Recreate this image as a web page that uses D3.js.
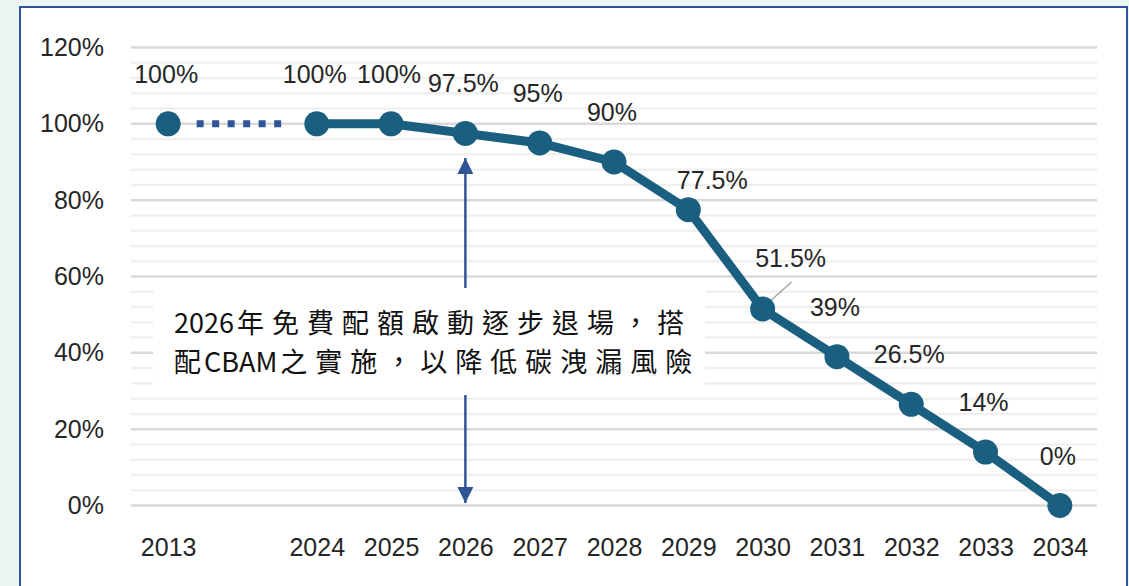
<!DOCTYPE html>
<html>
<head>
<meta charset="utf-8">
<script src="https://cdn.jsdelivr.net/npm/d3@7"></script>
<style>
  html, body { margin: 0; padding: 0; background: #edf5f4; }
  svg { display: block; }
  text { font-family: "Liberation Sans", Arial, sans-serif; }
</style>
</head>
<body>
<div id="chart"></div>
<script>
// slots on the x axis; "gap" is the empty slot between 2013 and 2024
var slots = ["2013", "gap", "2024", "2025", "2026", "2027", "2028", "2029", "2030", "2031", "2032", "2033", "2034"];
var years = ["2013", "2024", "2025", "2026", "2027", "2028", "2029", "2030", "2031", "2032", "2033", "2034"];
var values = [100, 100, 100, 97.5, 95, 90, 77.5, 51.5, 39, 26.5, 14, 0];
var yTicks = [0, 20, 40, 60, 80, 100, 120];
var noteLines = ["2026年免費配額啟動逐步退場，搭", "配CBAM之實施，以降低碳洩漏風險"];
var noteYear = "2026";

var width = 1129, height = 586;
var margin = {top: 47.5, right: 32, bottom: 80.5, left: 131};

var svg = d3.select("#chart").append("svg")
  .attr("width", width)
  .attr("height", height);

// white frame with blue border
svg.append("rect")
  .attr("x", 20).attr("y", 7)
  .attr("width", 1107).attr("height", 600)
  .attr("fill", "#fff")
  .attr("stroke", "#2f5597")
  .attr("stroke-width", 2);

var x = d3.scalePoint()
  .domain(slots)
  .range([margin.left, width - margin.right])
  .padding(0.5);

var y = d3.scaleLinear()
  .domain([0, 120])
  .range([height - margin.bottom, margin.top]);

var points = years.map(function (yr, i) { return {year: yr, value: values[i]}; });

// minor gridlines (every 4%)
var minor = d3.range(0, 121, 4).filter(function (d) { return d % 20 !== 0; });
svg.append("g").selectAll("line").data(minor).join("line")
  .attr("x1", margin.left).attr("x2", width - margin.right)
  .attr("y1", function (d) { return y(d); })
  .attr("y2", function (d) { return y(d); })
  .attr("stroke", "#f0f0f0")
  .attr("stroke-width", 2.5);

// major gridlines
svg.append("g").selectAll("line").data(yTicks).join("line")
  .attr("x1", margin.left).attr("x2", width - margin.right)
  .attr("y1", function (d) { return y(d); })
  .attr("y2", function (d) { return y(d); })
  .attr("stroke", "#d9d9d9")
  .attr("stroke-width", 2.5);

// y axis labels
var yAxis = svg.append("g")
  .attr("transform", "translate(" + (margin.left - 27) + ",0)")
  .call(d3.axisLeft(y).tickValues(yTicks).tickSize(0).tickFormat(function (d) { return d + "%"; }));
yAxis.select(".domain").remove();
yAxis.selectAll("text")
  .attr("x", 0)
  .style("font-family", "'Liberation Sans', Arial, sans-serif")
  .style("font-size", "25px")
  .attr("fill", "#262626");

// x axis labels
var xAxis = svg.append("g")
  .attr("transform", "translate(0," + y(0) + ")")
  .call(d3.axisBottom(x).tickSize(0).tickFormat(function (d) { return d === "gap" ? "" : d; }));
xAxis.select(".domain").remove();
xAxis.selectAll("text")
  .attr("y", 33)
  .style("font-family", "'Liberation Sans', Arial, sans-serif")
  .style("font-size", "25px")
  .attr("fill", "#262626");

// arrow marker
svg.append("defs").append("marker")
  .attr("id", "arrow")
  .attr("viewBox", "0 0 10 10")
  .attr("refX", 10).attr("refY", 5)
  .attr("markerUnits", "userSpaceOnUse")
  .attr("markerWidth", 16).attr("markerHeight", 16)
  .attr("orient", "auto")
  .append("path")
  .attr("d", "M0,0 L10,5 L0,10 Z")
  .attr("fill", "#2f5597");

var ax = x(noteYear);
svg.append("line")
  .attr("x1", ax).attr("x2", ax)
  .attr("y1", 300).attr("y2", 158)
  .attr("stroke", "#2f5597").attr("stroke-width", 2.5)
  .attr("marker-end", "url(#arrow)");
svg.append("line")
  .attr("x1", ax).attr("x2", ax)
  .attr("y1", 380).attr("y2", 503)
  .attr("stroke", "#2f5597").attr("stroke-width", 2.5)
  .attr("marker-end", "url(#arrow)");

// note box
svg.append("rect")
  .attr("x", 153).attr("y", 288)
  .attr("width", 552).attr("height", 107)
  .attr("fill", "#fff");

// note text: latin runs tight, CJK runs spaced out
var noteSize = 27, cjkGap = 8;
var note = svg.append("text")
  .style("font-family", "'Noto Sans CJK TC', 'Noto Sans', sans-serif")
  .style("font-size", noteSize + "px")
  .attr("fill", "#111");

noteLines.forEach(function (ln, i) {
  var runs = ln.match(/[\x00-\x7F]+|[^\x00-\x7F]+/g);
  var pieces = [];
  runs.forEach(function (run, j) {
    var latin = /^[\x00-\x7F]+$/.test(run);
    if (latin) {
      pieces.push({t: run, gap: 0, dx: j > 0 ? 3 : 0});
    } else if (j < runs.length - 1) {
      // no extra gap between the last CJK char and following latin text
      if (run.length > 1) pieces.push({t: run.slice(0, -1), gap: cjkGap, dx: j > 0 ? 3 : 0});
      pieces.push({t: run.slice(-1), gap: 0, dx: 0});
    } else {
      pieces.push({t: run, gap: cjkGap, dx: j > 0 ? 3 : 0});
    }
  });
  pieces.forEach(function (p, k) {
    var ts = note.append("tspan")
      .style("letter-spacing", p.gap + "px")
      .text(p.t);
    if (k === 0) ts.attr("x", 174).attr("y", 333 + i * 39.2);
    else if (p.dx) ts.attr("dx", p.dx);
  });
});

var lineColor = "#1b5f80";

// dotted segment 2013 -> 2024
var r = 12.5;
svg.append("line")
  .attr("x1", x(points[0].year) + r + 16)
  .attr("x2", x(points[1].year) - r - 20)
  .attr("y1", y(points[0].value))
  .attr("y2", y(points[1].value))
  .attr("stroke", "#2f5597")
  .attr("stroke-width", 7)
  .attr("stroke-dasharray", "7,8.5");

// solid line from 2024
var line = d3.line()
  .x(function (d) { return x(d.year); })
  .y(function (d) { return y(d.value); });

svg.append("path")
  .datum(points.slice(1))
  .attr("d", line)
  .attr("fill", "none")
  .attr("stroke", lineColor)
  .attr("stroke-width", 9)
  .attr("stroke-linejoin", "round");

// leader line for 51.5%
var p30 = points[7];
svg.append("line")
  .attr("x1", x(p30.year) + 2).attr("y1", y(p30.value) - 3)
  .attr("x2", x(p30.year) + 29).attr("y2", y(p30.value) - 27)
  .attr("stroke", "#a6a6a6")
  .attr("stroke-width", 1.5);

// markers
svg.append("g").selectAll("circle").data(points).join("circle")
  .attr("cx", function (d) { return x(d.year); })
  .attr("cy", function (d) { return y(d.value); })
  .attr("r", r)
  .attr("fill", lineColor);

// data labels; a couple are moved aside as in the original
var labelShift = {"2029": [24, -21], "2030": [28, -42]};
svg.append("g").selectAll("text").data(points).join("text")
  .attr("x", function (d) {
    var s = labelShift[d.year];
    return x(d.year) + (s ? s[0] : -2);
  })
  .attr("y", function (d) {
    var s = labelShift[d.year];
    return y(d.value) + (s ? s[1] : -41);
  })
  .attr("text-anchor", "middle")
  .style("font-size", "25px")
  .attr("fill", "#262626")
  .text(function (d) { return d.value + "%"; });
</script>
</body>
</html>
